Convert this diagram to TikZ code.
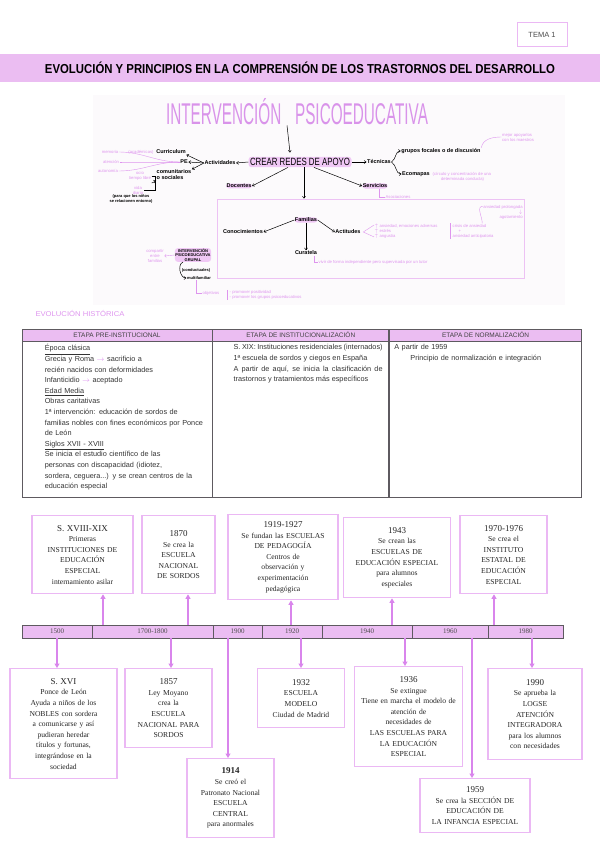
\documentclass[tikz,border=0pt]{standalone}
\usepackage{fontspec}
\usepackage{graphicx}
\setmainfont{Liberation Serif}
\setsansfont{Liberation Sans}
\usepackage{tikz}
\usetikzlibrary{arrows.meta,positioning,calc}

\definecolor{bandpink}{HTML}{EBBDF2}
\definecolor{boxpink}{HTML}{EBB8F4}
\definecolor{arrv}{HTML}{D985EC}
\definecolor{titlev}{HTML}{D993EA}
\definecolor{hlpink}{HTML}{F0C8F5}
\definecolor{notepink}{HTML}{DE95EE}
\definecolor{framepink}{HTML}{EDC2F4}
\definecolor{tabline}{HTML}{5E5A60}
\definecolor{mapbg}{HTML}{FCFAFC}

\newcommand{\hfit}[2]{\resizebox{#1}{\height}{#2}}

\tikzset{
  tlbox/.style={draw=boxpink, line width=1.3pt, fill=white, align=center, anchor=north,
    inner sep=2pt, font=\fontsize{7.6}{10.6}\selectfont, text=black!85},
  seg/.style={draw=tabline, fill=bandpink, line width=0.9pt, minimum height=13pt,
    inner sep=0pt, font=\fontsize{7}{8}\selectfont, text=black!70},
  tlarr/.style={draw=arrv, line width=1.2pt, -{Triangle[width=5pt,length=4.5pt]}},
  thead/.style={draw=tabline, fill=bandpink, line width=0.8pt, minimum height=12pt,
    inner sep=0pt, font=\sffamily\fontsize{6.5}{7}\selectfont, text=black!75},
  tbody/.style={draw=tabline, line width=0.8pt, minimum height=156pt, inner sep=0pt},
  ttext/.style={anchor=north west, inner sep=0pt, align=left,
    font=\sffamily\fontsize{7.3}{10.6}\selectfont, text=black!80},
  mapbold/.style={inner sep=0.5pt, font=\sffamily\bfseries\fontsize{5.5}{6}\selectfont},
  mapsmall/.style={inner sep=0.5pt, font=\sffamily\bfseries\fontsize{4}{4.6}\selectfont},
  mapnote/.style={inner sep=0.5pt, text=notepink, font=\sffamily\fontsize{4.2}{5}\selectfont},
  hl/.style={fill=hlpink, rounded corners=3pt},
  maparr/.style={line width=0.5pt, -{Straight Barb[length=2pt,width=3pt]}},
  notelink/.style={draw=notepink, line width=0.4pt}
}

\begin{document}
\begin{tikzpicture}[x=1pt,y=-1pt]
\useasboundingbox (0,0) rectangle (600,848);

\node[draw=boxpink, line width=1pt, minimum width=50pt, minimum height=24pt,
  font=\sffamily\fontsize{7.5}{9}\selectfont, text=black!70] (tema) at (542,35) {TEMA 1};
\node[fill=bandpink, minimum width=600pt, minimum height=28pt, inner sep=0pt,
  font=\sffamily\bfseries\fontsize{13}{14}\selectfont] (band) at (300,68)
  {\hfit{510pt}{EVOLUCIÓN Y PRINCIPIOS EN LA COMPRENSIÓN DE LOS TRASTORNOS DEL DESARROLLO}};

% mapa
\fill[mapbg] (93,95) rectangle (565,305);
\node[inner sep=0pt, text=titlev, font=\sffamily\fontsize{30}{30}\selectfont] (title) at (297,112)
  {\hfit{262pt}{INTERVENCIÓN\hspace{0.9em}PSICOEDUCATIVA}};
\node[hl, inner sep=1.5pt, font=\sffamily\fontsize{10.5}{11}\selectfont] (redes) at (300,162)
  {\hfit{100pt}{CREAR REDES DE APOYO}};
\draw[maparr] ([xshift=-10pt]title.south) -- ([xshift=-10pt,yshift=4pt]redes.north);

\node[mapbold] (activ) at (220,163) {Actividades};
\node[mapbold] (pe) at (184,162) {PE};
\node[mapbold] (curri) at (171,152) {Curriculum};
\node[mapbold, align=left] (comun) at (174,175) {comunitarios\\o sociales};
\draw[maparr] (redes.west) -- (activ.east);
\draw[maparr] (activ.west) -- (pe.east);
\draw[maparr] (activ.west) -- (curri.south east);
\draw[maparr] (activ.west) -- (comun.north east);
\node[mapnote] (memo) at (110,152) {memoria};
\node[mapnote] (acad) at (141,152) {(académicas)};
\node[mapnote] (aten) at (111,162) {atención};
\node[mapnote] (auto) at (108,171) {autonomía};
\foreach \n in {memo,aten,auto}
  \draw[notelink] (\n.east) to[out=0,in=180] (pe.west);
\node[mapnote, align=center] (ocio) at (140,176) {ocio\\tiempo libre};
\node[mapnote, align=center] (vida) at (138,190) {vida\\diaria};
\draw[line width=0.4pt] (ocio.east) -- ++(4,0) |- (vida.east);
\draw[maparr] ($(ocio.east)!0.5!(vida.east)+(4,0)$) to[out=0,in=200] (comun.south west);
\node[mapsmall, align=center] (paraq) at (131,199) {(para que los niños\\se relacionen entorno)};

\node[mapbold, hl] (docen) at (239,186) {Docentes};
\draw[maparr] ([xshift=-12pt]redes.south) -- (docen.east);
\node[mapbold] (tecn) at (379,162) {Técnicas};
\draw[maparr] (redes.east) -- (tecn.west);
\node[mapbold] (grupos) at (441,151) {grupos focales o de discusión};
\node[mapbold] (ecom) at (416,174) {Ecomapas};
\draw[maparr] (tecn.east) to[out=30,in=180] (grupos.west);
\draw[maparr] (tecn.east) to[out=-30,in=180] (ecom.west);
\node[mapnote, align=left, anchor=west] (circ) at (432,177) {(círculo y concentración de una\\\hspace*{2em}determinada conducta)};
\node[mapnote, align=left] (mejor) at (518,137) {mejor apoyarlos\\con los maestros};
\draw[notelink] (grupos.north east) to[out=80,in=180] (mejor.west);
\node[mapbold, hl] (serv) at (375,186) {Servicios};
\draw[maparr] ([xshift=14pt]redes.south) -- (serv.west);
\node[mapnote] (asoc) at (398,197) {Asociaciones};
\draw[notelink] ([xshift=4pt]serv.south) |- (asoc.west);

\node[draw=framepink, line width=0.8pt, minimum width=307pt, minimum height=79pt] (famframe) at (370.5,238.5) {};
\draw[maparr] ([xshift=4pt]redes.south) -- ([xshift=4pt]redes.south |- famframe.north);
\node[mapbold, hl] (famil) at (306,220) {Familias};
\node[mapbold] (conoc) at (243,232) {Conocimientos};
\node[mapbold] (actit) at (348,232) {Actitudes};
\node[mapbold] (curat) at (306,253) {Curatela};
\draw[maparr] (famil.west) -- (conoc.east);
\draw[maparr] (famil.east) -- (actit.west);
\draw[maparr] (famil.south) -- (curat.north);
\node[mapnote, align=left, anchor=west] (ansi) at (374,231) {$\uparrow$ ansiedad, emociones adversas\\$\uparrow$ estrés\\$\uparrow$ angustia};
\draw[notelink] ([yshift=-2pt]ansi.north west) -- ([xshift=2pt]actit.east) -- ([yshift=2pt]ansi.south west);
\node[mapnote, align=left, anchor=west] (crisis) at (452,231) {crisis de ansiedad\\\hspace*{1.4em}+\\ansiedad anticipatoria};
\draw[notelink] ([xshift=-1.5pt]crisis.north west) -- ([xshift=-1.5pt]crisis.south west);
\node[mapnote, align=right] (prolong) at (503,212) {ansiedad prolongada\\$\downarrow$\\agotamiento};
\draw[notelink] ([xshift=-12pt]crisis.north east) to[out=90,in=180] ([yshift=-2pt]prolong.north west);
\node[mapnote, anchor=west] (vivir) at (318,262) {vivir de forma independiente pero supervisada por un tutor};
\draw[notelink] ([xshift=-4pt]curat.south east) |- (vivir.west);

\node[mapsmall, hl, align=center] (igrup) at (193,255) {INTERVENCIÓN\\PSICOEDUCATIVA\\GRUPAL};
\node[mapnote, align=center] (compart) at (155,256) {compartir\\entre\\familias};
\draw[notelink, -{Straight Barb[length=1.5pt]}] (igrup.west) -- (compart.east);
\node[mapsmall] (conduc) at (196,270) {(conductuales)};
\node[mapsmall] (multi) at (199,278) {multifamiliar};
\draw[maparr] ([xshift=-10pt]igrup.south) to[out=200,in=180] (multi.west);
\node[mapnote] (objet) at (211,293) {objetivos};
\draw[notelink] ([xshift=-3pt]multi.south) |- (objet.west);
\node[mapnote, align=left, anchor=west] (promo) at (229,295) {- promover positividad\\- promover los grupos psicoeducativos};
\draw[notelink] ([xshift=-1.5pt]promo.north west) -- ([xshift=-1.5pt]promo.south west);

% tabla
\node[inner sep=0pt, text=notepink, font=\sffamily\fontsize{7}{8}\selectfont] (evhist) at (80,313)
  {\hfit{89pt}{EVOLUCIÓN HISTÓRICA}};
\node[thead, minimum width=190pt] (h1) at (117,335) {ETAPA PRE-INSTITUCIONAL};
\node[thead, minimum width=176pt, right=0pt of h1] (h2) {ETAPA DE INSTITUCIONALIZACIÓN};
\node[thead, minimum width=192pt, right=0pt of h2] (h3) {ETAPA DE NORMALIZACIÓN};
\node[tbody, minimum width=190pt, below=0pt of h1] (b1) {};
\node[tbody, minimum width=176pt, below=0pt of h2] (b2) {};
\node[tbody, minimum width=192pt, below=0pt of h3] (b3) {};
\node[ttext, text width=164pt] (t1) at ([xshift=23pt,yshift=-3pt]b1.north west)
  {\underline{Época clásica}\\
   Grecia y Roma {\color{arrv}$\rightarrow$} sacrificio a\\
   recién nacidos con deformidades\\
   Infanticidio {\color{arrv}$\rightarrow$} aceptado\\
   \underline{Edad Media}\\
   Obras caritativas\\
   1ª intervención: educación de sordos de\\
   familias nobles con fines económicos por Ponce\\
   de León\\
   \underline{Siglos XVII - XVIII}\\
   Se inicia el estudio científico de las\\
   personas con discapacidad (idiotez,\\
   sordera, ceguera...) y se crean centros de la\\
   educación especial};
\node[ttext, text width=149pt, align=justify] (t2) at ([xshift=21pt,yshift=-3pt]b2.north west)
  {S. XIX: Instituciones residenciales (internados)\\
   1ª escuela de sordos y ciegos en España\\
   A partir de aquí, se inicia la clasificación de trastornos y tratamientos más específicos};
\node[ttext, text width=180pt] (t3) at ([xshift=5pt,yshift=-3pt]b3.north west)
  {A partir de 1959\\
   \hspace*{2.2em}Principio de normalización e integración};

% linea de tiempo
\foreach \xa/\xb/\lbl [count=\i] in {22/92/1500,92/213/1700-1800,213/262/1900,262/322/1920,
    322/412/1940,412/488/1960,488/563/1980}{
  \pgfmathsetmacro{\segw}{\xb-\xa}
  \pgfmathsetmacro{\segx}{(\xa+\xb)/2}
  \node[seg, minimum width=\segw pt] (seg\i) at (\segx,631.5) {\lbl};
}

\node[tlbox, text width=95pt, minimum width=101pt, minimum height=78pt] (tA) at (82.5,515)
  {{\fontsize{9}{11}\selectfont S. XVIII-XIX}\\ Primeras\\ INSTITUCIONES DE\\ EDUCACIÓN\\ ESPECIAL\\ internamiento asilar};
\node[tlbox, text width=67pt, minimum width=73pt, minimum height=78pt] (tB) at (178.5,515)
  {{\fontsize{9}{11}\selectfont 1870}\\ Se crea la\\ ESCUELA\\ NACIONAL\\ DE SORDOS};
\node[tlbox, text width=104pt, minimum width=110pt, minimum height=85pt] (tC) at (283,514)
  {{\fontsize{9}{11}\selectfont 1919-1927}\\ Se fundan las ESCUELAS\\ DE PEDAGOGÍA\\ Centros de\\ observación y\\ experimentación\\ pedagógica};
\node[tlbox, text width=101pt, minimum width=107pt, minimum height=80pt] (tD) at (397,517)
  {{\fontsize{9}{11}\selectfont 1943}\\ Se crean las\\ ESCUELAS DE\\ EDUCACIÓN ESPECIAL\\ para alumnos\\ especiales};
\node[tlbox, text width=81pt, minimum width=87pt, minimum height=78pt] (tE) at (503.5,515)
  {{\fontsize{9}{11}\selectfont 1970-1976}\\ Se crea el\\ INSTITUTO\\ ESTATAL DE\\ EDUCACIÓN\\ ESPECIAL};

\node[tlbox, text width=101pt, minimum width=107pt, minimum height=110pt] (tF) at (63.5,668)
  {{\fontsize{9}{11}\selectfont S. XVI}\\ Ponce de León\\ Ayuda a niños de los\\ NOBLES con sordera\\ a comunicarse y así\\ pudieran heredar\\ títulos y fortunas,\\ integrándose en la\\ sociedad};
\node[tlbox, text width=81pt, minimum width=87pt, minimum height=79pt] (tG) at (168.5,668)
  {{\fontsize{9}{11}\selectfont 1857}\\ Ley Moyano\\ crea la\\ ESCUELA\\ NACIONAL PARA\\ SORDOS};
\node[tlbox, text width=81pt, minimum width=87pt, minimum height=79pt] (tH) at (230.5,758)
  {{\fontsize{9}{11}\selectfont\bfseries 1914}\\ Se creó el\\ Patronato Nacional\\ ESCUELA\\ CENTRAL\\ para anormales};
\node[tlbox, text width=81pt, minimum width=87pt, minimum height=59pt] (tI) at (301,668)
  {{\fontsize{9}{11}\selectfont 1932}\\ ESCUELA\\ MODELO\\ Ciudad de Madrid};
\node[tlbox, text width=102pt, minimum width=108pt, minimum height=100pt] (tJ) at (408.5,666)
  {{\fontsize{9}{11}\selectfont 1936}\\ Se extingue\\ Tiene en marcha el modelo de\\ atención de\\ necesidades de\\ LAS ESCUELAS PARA\\ LA EDUCACIÓN\\ ESPECIAL};
\node[tlbox, text width=104pt, minimum width=110pt, minimum height=54pt] (tK) at (475,778)
  {{\fontsize{9}{11}\selectfont 1959}\\ Se crea la SECCIÓN DE\\ EDUCACIÓN DE\\ LA INFANCIA ESPECIAL};
\node[tlbox, text width=88pt, minimum width=94pt, minimum height=91pt] (tL) at (535,668)
  {{\fontsize{9}{11}\selectfont 1990}\\ Se aprueba la\\ LOGSE\\ ATENCIÓN\\ INTEGRADORA\\ para los alumnos\\ con necesidades};

\foreach \b/\ax in {tA/103,tB/188,tC/291,tD/392,tE/494}
  \draw[tlarr] (\ax,0 |- seg1.north) -- (\ax,0 |- \b.south);
\foreach \b/\ax in {tF/57,tG/171,tH/228,tI/301,tJ/405,tK/472,tL/532}
  \draw[tlarr] (\ax,0 |- seg1.south) -- (\ax,0 |- \b.north);
\end{tikzpicture}
\end{document}
